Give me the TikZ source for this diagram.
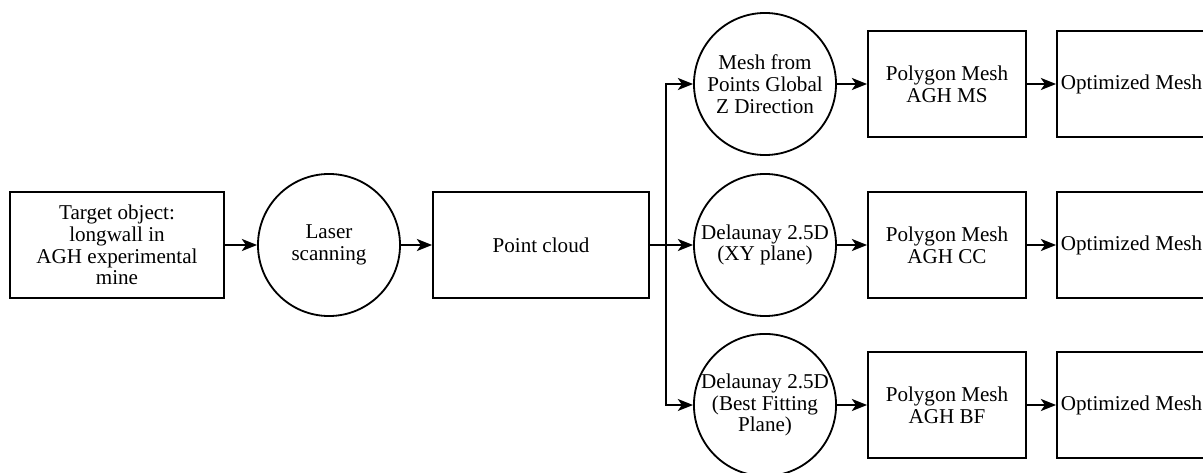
\documentclass[tikz,border=0pt]{standalone}
\usepackage{fontspec}
\setmainfont{Liberation Serif}
\usetikzlibrary{arrows.meta}
\begin{document}
\begin{tikzpicture}
			[x=0.025cm,y=-0.025cm,
			box/.style={rectangle,draw,line width=1.3pt,minimum height=2.65cm,align=center,inner sep=2pt,font=\fontsize{15}{15.5}\selectfont},
			proc/.style={circle,draw,line width=1.3pt,minimum size=3.55cm,inner sep=0pt,align=center,font=\fontsize{15}{15.5}\selectfont},
			>={Stealth[length=0.38cm,width=0.3cm,inset=0.1cm]}]
			\useasboundingbox(0,0)rectangle(1203,473);
			\clip(0,0)rectangle(1203,473);
			\node[box,name=target,minimum width=5.35cm]at(117,245){Target object:\\longwall in\\AGH experimental\\mine};
			\node[proc,name=laser]at(329,245){Laser\\scanning};
			\node[box,name=cloud,minimum width=5.4cm]at(541,245){Point cloud};
			\coordinate(branch)at(666,245);
			\node[proc,name=meshz]at(765,84){Mesh from\\Points Global\\Z Direction};
			\node[proc,name=delxy]at(765,245){Delaunay 2.5D\\(XY plane)};
			\node[proc,name=delbf]at(765,405){Delaunay 2.5D\\(Best Fitting\\Plane)};
			\node[box,name=polyms,minimum width=3.95cm]at(947,84){Polygon Mesh\\AGH MS};
			\node[box,name=polycc,minimum width=3.95cm]at(947,245){Polygon Mesh\\AGH CC};
			\node[box,name=polybf,minimum width=3.95cm]at(947,405){Polygon Mesh\\AGH BF};
			\node[box,name=optms,minimum width=3.725cm]at(1131.5,84){Optimized Mesh};
			\node[box,name=optcc,minimum width=3.725cm]at(1131.5,245){Optimized Mesh};
			\node[box,name=optbf,minimum width=3.725cm]at(1131.5,405){Optimized Mesh};
			\draw[->,line width=1.3pt](target)--(laser);
			\draw[->,line width=1.3pt](laser)--(cloud);
			\draw[line width=1.3pt](cloud)--(branch);
			\draw[->,line width=1.3pt](branch)|-(meshz);
			\draw[->,line width=1.3pt](branch)--(delxy);
			\draw[->,line width=1.3pt](branch)|-(delbf);
			\draw[->,line width=1.3pt](meshz)--(polyms);
			\draw[->,line width=1.3pt](delxy)--(polycc);
			\draw[->,line width=1.3pt](delbf)--(polybf);
			\draw[->,line width=1.3pt](polyms)--(optms);
			\draw[->,line width=1.3pt](polycc)--(optcc);
			\draw[->,line width=1.3pt](polybf)--(optbf);
		\end{tikzpicture}
\end{document}
